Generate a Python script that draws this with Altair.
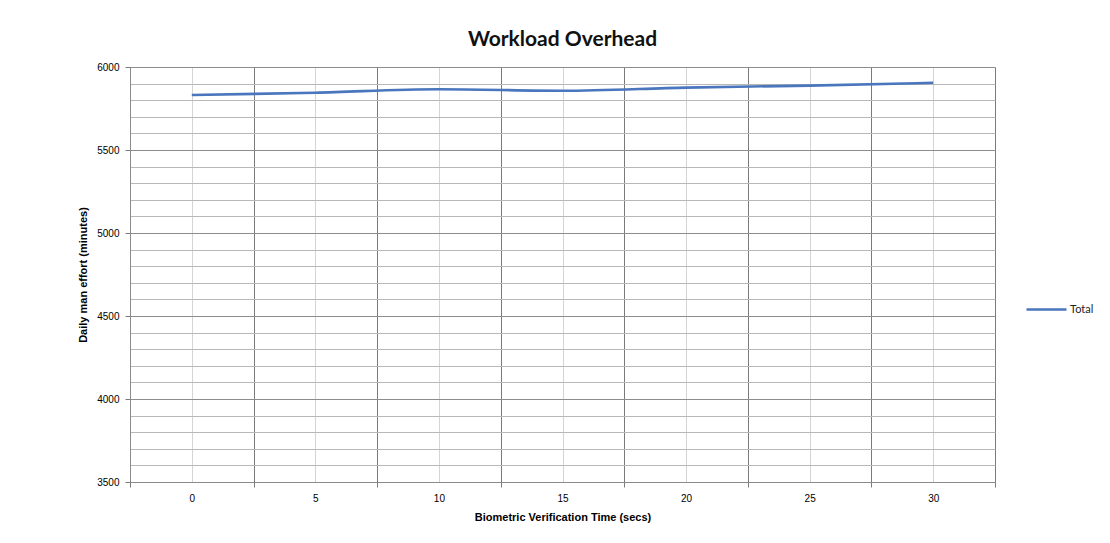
import altair as alt
import pandas as pd

verification_time = [0, 5, 10, 15, 20, 25, 30]
total_effort = [5831, 5845, 5866, 5857, 5876, 5888, 5905]
series_name = ["Total"] * len(verification_time)

df = pd.DataFrame({"time": verification_time, "effort": total_effort, "series": series_name})

x_values = [v / 2 for v in range(-5, 66, 5)]  # -2.5 .. 32.5 every 2.5
y_values = list(range(3500, 6001, 100))

FONT = "Lato"

line = alt.Chart(df).mark_line(strokeWidth=2.6, interpolate="monotone").encode(
    x=alt.X(
        "time:Q",
        scale=alt.Scale(domain=[-2.5, 32.5], nice=False, zero=False),
        axis=alt.Axis(
            title="Biometric Verification Time (secs)",
            values=x_values,
            labelExpr="datum.value % 5 === 0 ? datum.label : ''",
            gridColor=alt.ConditionalAxisColor(
                condition={"test": "datum.value % 5 !== 0", "value": "#7a7a7a"},
                value="#d4d4d4",
            ),
            tickColor=alt.ConditionalAxisColor(
                condition={"test": "datum.value % 5 !== 0", "value": "#7a7a7a"},
                value="transparent",
            ),
            tickSize=5,
            labelPadding=6,
            titlePadding=8,
            domainColor="#8a8a8a",
        ),
    ),
    y=alt.Y(
        "effort:Q",
        scale=alt.Scale(domain=[3500, 6000], nice=False, zero=False),
        axis=alt.Axis(
            title="Daily man effort (minutes)",
            values=y_values,
            labelExpr="datum.value % 500 === 0 ? datum.label : ''",
            format="d",
            gridColor=alt.ConditionalAxisColor(
                condition={"test": "datum.value % 500 === 0", "value": "#8c8c8c"},
                value="#b8b8b8",
            ),
            tickColor=alt.ConditionalAxisColor(
                condition={"test": "datum.value % 500 === 0", "value": "#7a7a7a"},
                value="transparent",
            ),
            tickSize=5,
            labelPadding=6,
            titlePadding=8,
            domainColor="#8a8a8a",
        ),
    ),
    color=alt.Color(
        "series:N",
        scale=alt.Scale(range=["#4a76bd"]),
        legend=alt.Legend(
            title=None,
            orient="none",
            legendX=895,
            legendY=221,
            symbolType="stroke",
            symbolStrokeWidth=2.6,
            symbolSize=1600,
            labelFontSize=11,
            labelFont=FONT,
            labelColor="#222",
            labelOffset=2,
        ),
    ),
)

chart = line.properties(
    width=865,
    height=415,
    title=alt.TitleParams(
        "Workload Overhead", fontSize=21, font=FONT, fontWeight="bold",
        color="#111", anchor="middle", offset=12,
    ),
    autosize=alt.AutoSizeParams(type="none"),
    padding={"left": 122, "top": 59, "right": 107, "bottom": 53},
).configure_view(
    stroke="#8a8a8a", strokeWidth=1
).configure_axis(
    labelFont=FONT, titleFont=FONT, labelFontSize=11, titleFontSize=11,
    labelColor="#333", titleColor="#111", titleFontWeight="bold",
    gridWidth=1,
).configure(background="white")

chart.save("out.html", embed_options={"renderer": "svg", "actions": False})
